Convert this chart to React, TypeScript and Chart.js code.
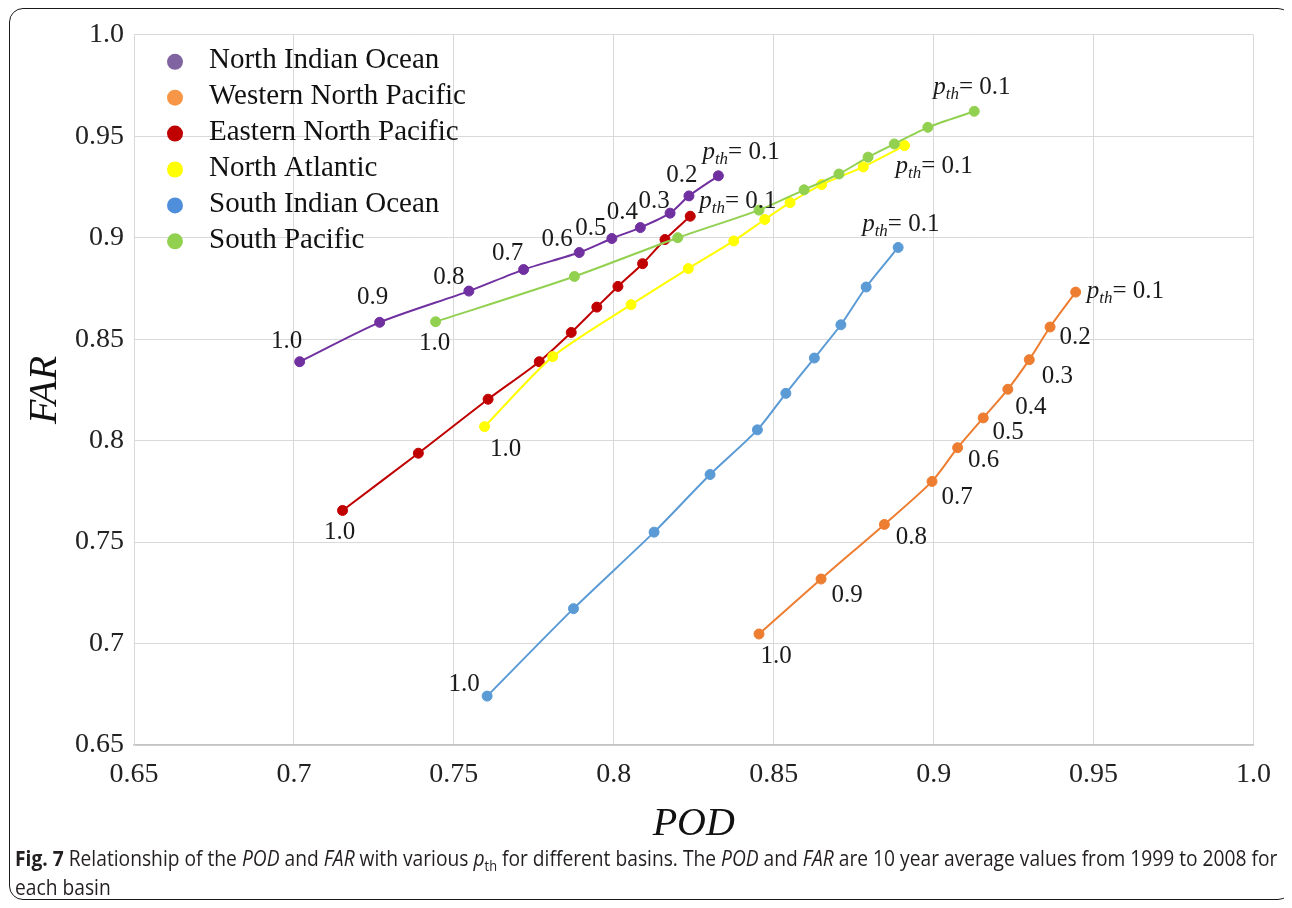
import React, { useEffect, useRef } from 'react';
import { Chart, registerables } from 'chart.js';

Chart.register(...registerables);

// ---------- data ----------
const SERIES_NAMES = [
  'North Indian Ocean',
  'Western North Pacific',
  'Eastern North Pacific',
  'North Atlantic',
  'South Indian Ocean',
  'South Pacific',
];

// p_th values, in the order the points are listed (1.0 -> 0.1)
const PTH = ['1.0', '0.9', '0.8', '0.7', '0.6', '0.5', '0.4', '0.3', '0.2', '0.1'];

const NIO_POD = [0.7018, 0.7268, 0.7547, 0.7718, 0.7892, 0.7994, 0.8083, 0.8176, 0.8235, 0.8327];
const NIO_FAR = [0.8389, 0.8583, 0.8737, 0.8843, 0.8927, 0.8996, 0.905, 0.9121, 0.9206, 0.9305];

const WNP_POD = [0.8454, 0.8648, 0.8846, 0.8995, 0.9075, 0.9155, 0.9232, 0.9299, 0.9364, 0.9444];
const WNP_FAR = [0.7047, 0.7318, 0.7587, 0.7799, 0.7965, 0.8112, 0.8253, 0.8399, 0.856, 0.8732];

const ENP_POD = [0.7152, 0.7389, 0.7607, 0.7767, 0.7867, 0.7947, 0.8013, 0.809, 0.816, 0.8239];
const ENP_FAR = [0.7656, 0.7938, 0.8204, 0.8389, 0.8533, 0.8658, 0.876, 0.8872, 0.8991, 0.9106];

const NA_POD = [0.7596, 0.7809, 0.8054, 0.8233, 0.8375, 0.8472, 0.8551, 0.865, 0.878, 0.8909];
const NA_FAR = [0.8069, 0.8414, 0.867, 0.8848, 0.8984, 0.909, 0.9173, 0.9262, 0.9349, 0.9454];

const SIO_POD = [0.7604, 0.7874, 0.8126, 0.8301, 0.8449, 0.8538, 0.8627, 0.871, 0.8789, 0.8889];
const SIO_FAR = [0.6741, 0.7172, 0.7549, 0.7833, 0.8053, 0.8233, 0.8407, 0.8571, 0.8757, 0.8952];

const SP_POD = [0.7443, 0.7877, 0.82, 0.8454, 0.8595, 0.8704, 0.8795, 0.8877, 0.8982, 0.9127];
const SP_FAR = [0.8586, 0.8809, 0.9, 0.9136, 0.9236, 0.9314, 0.9397, 0.9462, 0.9544, 0.9623];

const POD_SERIES = [NIO_POD, WNP_POD, ENP_POD, NA_POD, SIO_POD, SP_POD];
const FAR_SERIES = [NIO_FAR, WNP_FAR, ENP_FAR, NA_FAR, SIO_FAR, SP_FAR];

// which p_th points carry a text label
const ALL_IDX = [0, 1, 2, 3, 4, 5, 6, 7, 8, 9];
const ENDS_IDX = [0, 9];
const LABELED_IDX = [ALL_IDX, ALL_IDX, ENDS_IDX, ENDS_IDX, ENDS_IDX, ENDS_IDX];

const X_TICKS = [0.65, 0.7, 0.75, 0.8, 0.85, 0.9, 0.95, 1.0];
const X_TICK_LABELS = ['0.65', '0.7', '0.75', '0.8', '0.85', '0.9', '0.95', '1.0'];
const Y_TICKS = [0.65, 0.7, 0.75, 0.8, 0.85, 0.9, 0.95, 1.0];
const Y_TICK_LABELS = ['0.65', '0.7', '0.75', '0.8', '0.85', '0.9', '0.95', '1.0'];

// ---------- styles ----------
const LINE_COLORS = ['#7030A0', '#ED7D31', '#C00000', '#FFFF00', '#5B9BD5', '#92D050'];
const LEGEND_COLORS = ['#8064A2', '#F79646', '#C00000', '#FFFF00', '#4F8EDB', '#92D050'];
const SERIF = '"Liberation Serif", "Times New Roman", serif';

// label offsets (pixels) from the point; for the last (p_th = 0.1) label it is the text start
const LABEL_OFFSETS: number[][][] = [
  [[-13, -20], [-7, -25], [-20, -14], [-16, -16], [-22, -13], [-21, -10], [-18, -15], [-16, -12], [-7, -20], [-16, -23]],
  [[17, 22], [26, 16], [27, 13], [25, 16], [26, 13], [25, 15], [23, 18], [28, 17], [25, 10], [11, -1]],
  [[-3, 22], [9, -15]],
  [[21, 23], [-9, 21]],
  [[-23, -12], [-36, -23]],
  [[-1, 22], [-41, -24]],
];

const labelPlugin = {
  id: 'pthLabels',
  afterDatasetsDraw(chart: any) {
    const ctx = chart.ctx as CanvasRenderingContext2D;
    ctx.save();
    ctx.fillStyle = '#1a1a1a';
    ctx.textBaseline = 'middle';
    LABELED_IDX.forEach((idxs, si) => {
      const meta = chart.getDatasetMeta(si);
      idxs.forEach((pi, k) => {
        const el = meta.data[pi];
        if (!el) return;
        const [dx, dy] = LABEL_OFFSETS[si][k];
        const x = el.x + dx;
        const y = el.y + dy;
        if (pi === PTH.length - 1) {
          ctx.textAlign = 'left';
          ctx.font = `italic 25px ${SERIF}`;
          ctx.fillText('p', x, y);
          let cx = x + ctx.measureText('p').width;
          ctx.font = `italic 17px ${SERIF}`;
          ctx.fillText('th', cx, y + 7);
          cx += ctx.measureText('th').width;
          ctx.font = `25px ${SERIF}`;
          ctx.fillText('= ' + PTH[pi], cx, y);
        } else {
          ctx.textAlign = 'center';
          ctx.font = `25px ${SERIF}`;
          ctx.fillText(PTH[pi], x, y);
        }
      });
    });
    ctx.restore();
  },
};

const legendPlugin = {
  id: 'insideLegend',
  afterDraw(chart: any) {
    const ctx = chart.ctx as CanvasRenderingContext2D;
    const { left, top } = chart.chartArea;
    ctx.save();
    ctx.textBaseline = 'middle';
    ctx.textAlign = 'left';
    ctx.font = `29px ${SERIF}`;
    SERIES_NAMES.forEach((name, i) => {
      const y = top + 27 + i * 35.9;
      ctx.beginPath();
      ctx.fillStyle = LEGEND_COLORS[i];
      ctx.arc(left + 41, y, 8, 0, Math.PI * 2);
      ctx.fill();
      ctx.fillStyle = '#111';
      ctx.fillText(name, left + 75, y - 1);
    });
    ctx.restore();
  },
};

export default function App() {
  const ref = useRef<HTMLCanvasElement>(null);

  useEffect(() => {
    if (!ref.current) return;
    const datasets = SERIES_NAMES.map((name, i) => ({
      label: name,
      data: POD_SERIES[i].map((x, j) => ({ x, y: FAR_SERIES[i][j] })),
      showLine: true,
      borderColor: LINE_COLORS[i],
      backgroundColor: LINE_COLORS[i],
      pointBackgroundColor: LINE_COLORS[i],
      pointBorderColor: LINE_COLORS[i],
      pointRadius: 5,
      pointHoverRadius: 5,
      pointBorderWidth: 1,
      borderWidth: 2,
      tension: 0.25,
      order: SERIES_NAMES.length - 1 - i,
    }));

    const chart = new Chart(ref.current, {
      type: 'scatter',
      data: { datasets },
      plugins: [labelPlugin, legendPlugin],
      options: {
        animation: false,
        responsive: false,
        layout: { padding: { left: 13, top: 26, right: 30, bottom: 0 } },
        plugins: {
          legend: { display: false },
          tooltip: { enabled: false },
        },
        scales: {
          x: {
            type: 'linear',
            min: 0.65,
            max: 1.0,
            afterBuildTicks: (scale: any) => {
              scale.ticks = X_TICKS.map((v) => ({ value: v }));
            },
            afterFit: (scale: any) => {
              scale.height = 103;
            },
            ticks: {
              callback: (_v: any, i: number) => X_TICK_LABELS[i],
              font: { family: SERIF, size: 28 },
              color: '#222',
              padding: 13,
              maxRotation: 0,
              autoSkip: false,
            },
            grid: { color: '#D9D9D9', lineWidth: 1, drawTicks: false },
            border: { color: '#C4C4C4', width: 1.5 },
            title: {
              display: true,
              text: 'POD',
              font: { family: SERIF, size: 40, style: 'italic' },
              color: '#111',
              padding: 0,
            },
          },
          y: {
            type: 'linear',
            min: 0.65,
            max: 1.0,
            afterBuildTicks: (scale: any) => {
              scale.ticks = Y_TICKS.map((v) => ({ value: v }));
            },
            afterFit: (scale: any) => {
              scale.width = 113;
            },
            ticks: {
              callback: (_v: any, i: number) => Y_TICK_LABELS[i],
              font: { family: SERIF, size: 28 },
              color: '#222',
              padding: 10,
              autoSkip: false,
            },
            grid: { color: '#D9D9D9', lineWidth: 1, drawTicks: false },
            border: { color: '#D9D9D9', width: 1 },
            title: {
              display: true,
              text: 'FAR',
              font: { family: SERIF, size: 40, style: 'italic' },
              color: '#111',
              padding: 0,
            },
          },
        },
      } as any,
    });
    return () => chart.destroy();
  }, []);

  const ital: React.CSSProperties = { fontStyle: 'italic' };
  return (
    <div style={{ position: 'relative', width: 1276, height: 892 }}>
      <div
        style={{
          position: 'absolute',
          left: 1,
          top: 0,
          width: 1283,
          height: 892,
          boxSizing: 'border-box',
          border: '1.5px solid #1a1a1a',
          borderRadius: 14,
        }}
      />
      <canvas
        ref={ref}
        width={1276}
        height={840}
        style={{ position: 'absolute', left: 0, top: 0, width: 1276, height: 840 }}
      />
      <div
        style={{
          position: 'absolute',
          left: 7,
          top: 837,
          fontFamily: '"Open Sans", sans-serif',
          fontSize: 21,
          lineHeight: '27px',
          color: '#231f20',
          whiteSpace: 'nowrap',
          transform: 'scaleX(0.915)',
          transformOrigin: '0 0',
        }}
      >
        <b>Fig. 7</b> Relationship of the <span style={ital}>POD</span> and <span style={ital}>FAR</span> with various{' '}
        <span style={ital}>p</span>
        <span style={{ fontSize: 14, position: 'relative', top: 5 }}>th</span> for different basins. The{' '}
        <span style={ital}>POD</span> and <span style={ital}>FAR</span> are 10 year average values from 1999 to 2008 for
        <br />
        each basin
      </div>
    </div>
  );
}
